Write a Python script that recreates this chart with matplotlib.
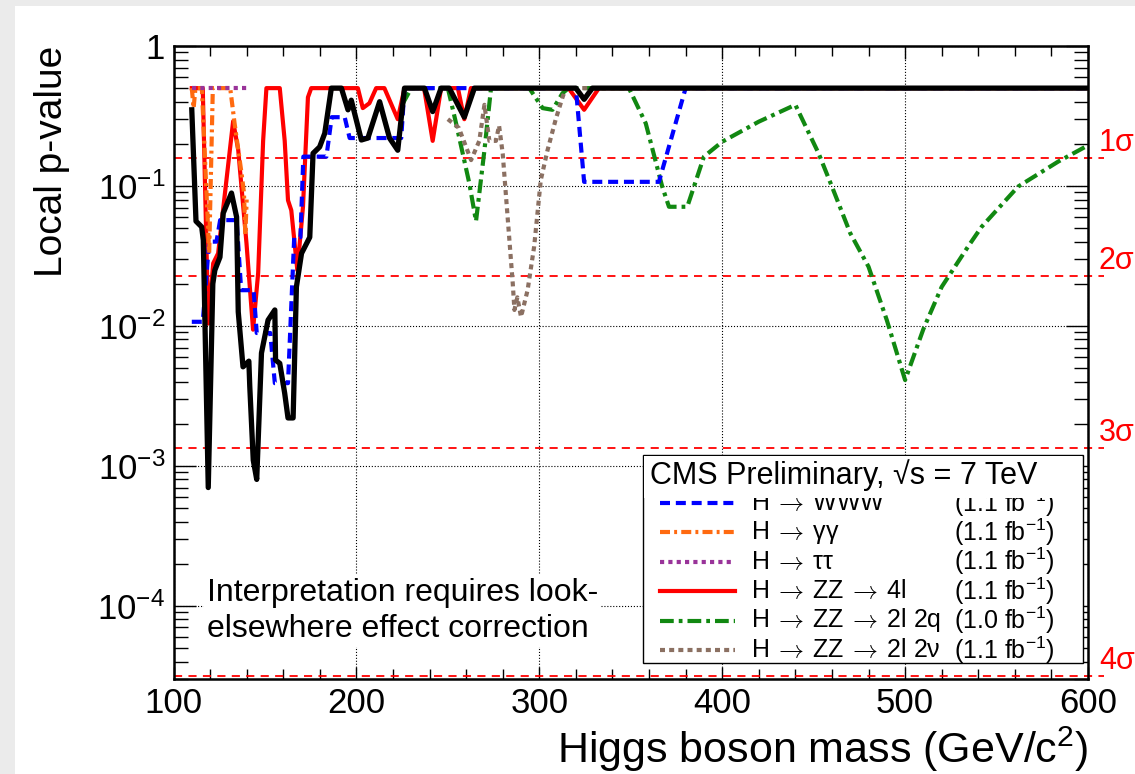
import matplotlib
matplotlib.use('Agg')
import matplotlib.pyplot as plt
from matplotlib.lines import Line2D
from matplotlib.patches import Rectangle
from matplotlib.ticker import MultipleLocator, LogLocator, FixedLocator, FixedFormatter, NullFormatter

plt.rcParams['font.family'] = ['Liberation Sans', 'DejaVu Sans']
plt.rcParams['mathtext.fontset'] = 'custom'
plt.rcParams['mathtext.rm'] = 'Liberation Sans'
plt.rcParams['mathtext.it'] = 'Liberation Sans:italic'
plt.rcParams['mathtext.sf'] = 'Liberation Sans'

# ---- data ----
mass_ww = [110, 116, 119.5, 123.5, 125.5, 134.5, 137, 143.8, 145.5, 152.9, 155.4, 162.6, 166, 169.4,
           171, 183.6, 186.5, 193.6, 196.3, 224.5, 226.3, 320, 324.5, 365.4, 380, 600]
p_ww = [0.0107, 0.0107, 0.040, 0.040, 0.057, 0.057, 0.018, 0.018, 0.0089, 0.0089, 0.0039, 0.0039, 0.043, 0.043,
        0.162, 0.162, 0.31, 0.31, 0.22, 0.22, 0.5, 0.5, 0.107, 0.107, 0.5, 0.5]

mass_gg = [110, 111, 112, 115.5, 119.5, 121.5, 131, 133.4, 137.2, 138.5, 139.3, 140]
p_gg = [0.5, 0.36, 0.5, 0.5, 0.033, 0.5, 0.5, 0.28, 0.123, 0.09, 0.045, 0.08]

mass_tt = [110, 140]
p_tt = [0.5, 0.5]

mass_4l = [110, 116, 119, 121.7, 124.4, 132.6, 135.4, 139.9, 143.5, 146.3, 149, 150.8, 158.1, 160.8,
           162.6, 164.4, 167.7, 170.8, 173.5, 175.3, 200.8, 203.5, 207.1, 210.8, 215.3, 222.6, 226.3,
           237, 241.7, 246.3, 255.5, 259, 262.6, 316, 324.5, 332.6, 600]
p_4l = [0.5, 0.5, 0.0104, 0.028, 0.033, 0.29, 0.18, 0.039, 0.0094, 0.024, 0.21, 0.5, 0.5, 0.21,
        0.079, 0.067, 0.025, 0.071, 0.43, 0.5, 0.5, 0.36, 0.39, 0.5, 0.5, 0.30, 0.5,
        0.5, 0.21, 0.5, 0.5, 0.30, 0.5, 0.5, 0.35, 0.5, 0.5]

mass_2q = [225, 230, 250, 254.5, 261.7, 265.4, 270, 273.6, 294.5, 301.8, 307.2, 312.7, 316, 349, 358.2,
           367.2, 370.9, 380.9, 390, 400, 420, 440, 452.7, 460, 470, 480, 490, 500, 510, 520, 534.5,
           541.8, 561.8, 583.6, 600]
p_2q = [0.38, 0.5, 0.5, 0.28, 0.105, 0.056, 0.18, 0.5, 0.5, 0.36, 0.35, 0.46, 0.5, 0.5, 0.28,
        0.099, 0.071, 0.071, 0.162, 0.207, 0.288, 0.38, 0.171, 0.099, 0.046, 0.0265, 0.011, 0.0041, 0.0095, 0.019, 0.037,
        0.051, 0.099, 0.149, 0.195]

mass_2nu = [250, 256, 262.7, 267.2, 270, 272.7, 276.3, 278, 280, 285.5, 286.4, 288, 290, 293.6, 297.2,
            300.8, 304.5, 309, 312.7, 314.5, 600]
p_2nu = [0.30, 0.26, 0.153, 0.21, 0.38, 0.21, 0.21, 0.27, 0.17, 0.02, 0.013, 0.016, 0.0116, 0.018, 0.037,
         0.11, 0.18, 0.30, 0.43, 0.5, 0.5]

mass_comb = [110, 112.3, 115.4, 116.3, 119, 121.5, 122.6, 125.4, 127.2, 131.7, 134.5, 135.4, 138, 141.2,
             141.7, 143.6, 145.5, 148.1, 151.7, 155.4, 155.8, 158.1, 160.8, 162.6, 165.4, 167.2, 170,
             174.5, 176.3, 179.9, 182.7, 186.3, 191.8, 195.4, 197.2, 202.7, 206.3, 212.7, 218.1, 222.6,
             226.3, 237.2, 241.7, 246.3, 250.8, 259, 264.5, 320, 324.5, 329, 600]
p_comb = [0.35, 0.056, 0.051, 0.041, 0.0007, 0.02, 0.025, 0.031, 0.064, 0.089, 0.06, 0.0126, 0.0051, 0.0056,
          0.0037, 0.0011, 0.0008, 0.0064, 0.011, 0.013, 0.0057, 0.0054, 0.0033, 0.0022, 0.0022, 0.019, 0.033,
          0.043, 0.171, 0.19, 0.238, 0.5, 0.5, 0.35, 0.41, 0.213, 0.22, 0.40, 0.22, 0.18,
          0.5, 0.5, 0.34, 0.5, 0.5, 0.31, 0.5, 0.5, 0.416, 0.5, 0.5]

sigma_p = [0.1587, 0.02275, 0.00135, 3.17e-5]
sigma_labels = ['1σ', '2σ', '3σ', '4σ']

ytick_vals = [1e-4, 1e-3, 1e-2, 1e-1, 1]
ytick_labels = ['$10^{-4}$', '$10^{-3}$', '$10^{-2}$', '$10^{-1}$', '1']

W, H = 1135, 774


def fxy(px, py):
    return px / W, 1 - py / H


fig = plt.figure(figsize=(11.35, 7.74), dpi=100, facecolor='#ebebeb')
fig.add_artist(Rectangle((15 / W, 0), 1, 1 - 6 / H, transform=fig.transFigure, facecolor='white',
                         edgecolor='none', zorder=-10))
ax = fig.add_axes([173.5 / W, 95 / H, (1088 - 173.5) / W, (679 - 46) / H])

# styles
st_ww = dict(color='#0000ff', lw=3, dashes=(2.4, 1.4))
st_gg = dict(color='#ff6a10', lw=3, dashes=(2.4, 1.0, 0.7, 1.0))
st_tt = dict(color='#993399', lw=3, dashes=(1.0, 1.0))
st_4l = dict(color='#ff0000', lw=3, ls='-')
st_2q = dict(color='#118811', lw=3, dashes=(3.3, 1.2, 0.9, 1.2))
st_2nu = dict(color='#8b7062', lw=3, dashes=(1.2, 1.0))

ax.plot(mass_2q, p_2q, zorder=3, **st_2q)
ax.plot(mass_2nu, p_2nu, zorder=3, **st_2nu)
ax.plot(mass_4l, p_4l, zorder=3.5, **st_4l)
ax.plot(mass_ww, p_ww, zorder=4, **st_ww)
ax.plot(mass_gg, p_gg, zorder=4.2, **st_gg)
ax.plot(mass_tt, p_tt, zorder=4.4, **st_tt)
ax.plot(mass_comb, p_comb, color='black', lw=3.8, zorder=5)

ax.set_yscale('log')
ax.set_xlim(100, 600)
ax.set_ylim(3.0e-5, 1)

# significance lines
for p, lab in zip(sigma_p, sigma_labels):
    ax.plot([0, 1.017], [p, p], transform=ax.get_yaxis_transform(), color='red', lw=1.3,
            dashes=(4.5, 3.5), clip_on=False, zorder=2)
    ax.text(1.012, p * 1.27, lab, transform=ax.get_yaxis_transform(), color='red', fontsize=22,
            ha='left', va='center')

ax.xaxis.set_major_locator(MultipleLocator(100))
ax.xaxis.set_minor_locator(MultipleLocator(20))
ax.yaxis.set_major_locator(FixedLocator(ytick_vals))
ax.yaxis.set_major_formatter(FixedFormatter(ytick_labels))
ax.yaxis.set_minor_locator(LogLocator(base=10, subs=range(2, 10), numticks=20))
ax.yaxis.set_minor_formatter(NullFormatter())
ax.tick_params(which='both', direction='in', top=True, right=True, labelsize=25, width=1.0)
ax.tick_params(axis='x', which='major', length=9, pad=6)
ax.tick_params(axis='x', which='minor', length=7)
ax.tick_params(axis='y', which='major', length=16, pad=6)
ax.tick_params(axis='y', which='minor', length=10)
for s in ax.spines.values():
    s.set_linewidth(1.8)
ax.grid(True, which='major', ls=':', color='black', lw=0.8)

ax.set_xlabel('Higgs boson mass (GeV/c$^2$)', fontsize=31, loc='right')
ax.xaxis.set_label_coords(1.0, -0.072)
ax.set_ylabel('Local p-value', fontsize=28, loc='top')
ax.yaxis.set_label_coords(-0.113, 1.0)

ax.text(*fxy(207, 611), 'Interpretation requires look-\nelsewhere effect correction',
        transform=fig.transFigure, fontsize=23, ha='left', va='center', linespacing=1.25,
        bbox=dict(facecolor='white', edgecolor='none', pad=2), zorder=6)

# legend box drawn by hand
fig.add_artist(Rectangle(fxy(643, 663), 440 / W, 208 / H, transform=fig.transFigure,
                         facecolor='white', edgecolor='black', lw=1.0, zorder=10))
arrow = r'$\:\rightarrow\:$'
entries = [('H' + arrow + 'WWW', '(1.1 fb$^{-1}$)', st_ww),
           ('H' + arrow + 'γγ', '(1.1 fb$^{-1}$)', st_gg),
           ('H' + arrow + 'ττ', '(1.1 fb$^{-1}$)', st_tt),
           ('H' + arrow + 'ZZ' + arrow + '4l', '(1.1 fb$^{-1}$)', st_4l),
           ('H' + arrow + 'ZZ' + arrow + '2l 2q', '(1.0 fb$^{-1}$)', st_2q),
           ('H' + arrow + 'ZZ' + arrow + '2l 2ν', '(1.1 fb$^{-1}$)', st_2nu)]
row_y = [503, 532, 561.5, 591, 620.5, 650]
for (name, lumi, st), y in zip(entries, row_y):
    x0, yy = fxy(660, y)
    x1, _ = fxy(735, y)
    fig.add_artist(Line2D([x0, x1], [yy, yy], transform=fig.transFigure, zorder=11, **st))
    fig.text(*fxy(751, y), name, fontsize=18, ha='left', va='center', zorder=11,
             math_fontfamily='cm')
    fig.text(*fxy(1055, y), lumi, fontsize=18, ha='right', va='center', zorder=11)
fig.add_artist(Rectangle(fxy(644, 498), 438 / W, 42 / H, transform=fig.transFigure,
                         facecolor='white', edgecolor='none', zorder=12))
fig.text(*fxy(650, 475), 'CMS Preliminary, √s = 7 TeV', fontsize=22, ha='left', va='center', zorder=13)

plt.savefig('out.png', dpi=100, facecolor=fig.get_facecolor())
